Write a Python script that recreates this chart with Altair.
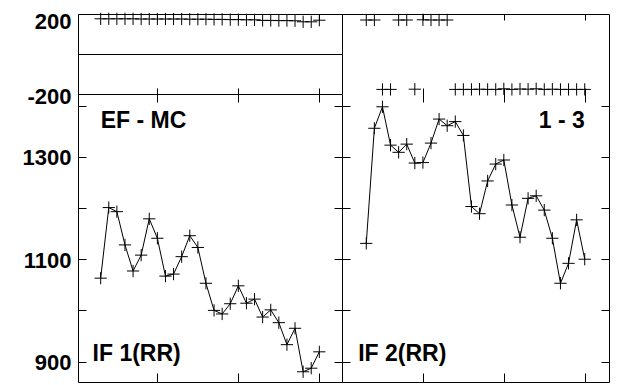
import altair as alt
import pandas as pd

# ---- data ----
x_vals = [0.3, 0.4, 0.5, 0.6, 0.7, 0.8, 0.9, 1.0, 1.1, 1.2, 1.3, 1.4, 1.5, 1.6,
          1.7, 1.8, 1.9, 2.0, 2.1, 2.2, 2.3, 2.4, 2.5, 2.6, 2.7, 2.8, 2.9, 3.0]

# IF 1(RR)  (EF - MC), lower-left panel
if1 = [1063, 1201, 1193, 1128, 1077, 1108, 1179, 1141, 1067, 1071,
       1105, 1146, 1123, 1053, 1000, 993, 1013, 1048, 1014, 1022,
       987, 1001, 976, 933, 965, 880, 887, 919]
# IF 2(RR)  (1 - 3), lower-right panel
if2 = [1131, 1356, 1398, 1323, 1309, 1325, 1288, 1289, 1327, 1374,
       1361, 1369, 1342, 1203, 1189, 1253, 1286, 1294, 1206, 1143,
       1219, 1224, 1196, 1141, 1053, 1092, 1177, 1100]
# phase panels (top)
ph1 = [176, 176, 176, 176, 176, 175, 175, 175, 175, 175, 175, 174, 174, 174,
       173, 173, 172, 172, 171, 171, 168, 168, 167, 167, 166, 161, 161, 169]
ph2 = [170, 170, -177, -177, 170, 170, -176, 171, 170, 170, 170,
       -177, -177, -177, -176, -177, -177, -174, -177, -175, -176, -174,
       -177, -176, -177, -177, -177, -177]

x_ticks = [1, 2, 3]
top_ticks = [-200, 0, 200]
bottom_label_ticks = [900, 1100, 1300]
bottom_ticks = [900, 1000, 1100, 1200, 1300, 1400]

left_labels = ["EF - MC", "IF 1(RR)"]
left_label_x = [0.30, 0.20]
left_label_y = [1357, 901]
right_label_a = ["1 - 3"]
right_label_a_x = [3.0]
right_label_a_y = [1357]
right_label_b = ["IF 2(RR)"]
right_label_b_x = [0.20]
right_label_b_y = [901]

# ---- tables ----
df_tl = pd.DataFrame({"x": x_vals, "v": ph1})
df_tr = pd.DataFrame({"x": x_vals, "v": ph2})
df_bl = pd.DataFrame({"x": x_vals, "v": if1})
df_br = pd.DataFrame({"x": x_vals, "v": if2})
df_lab_l = pd.DataFrame({"x": left_label_x, "v": left_label_y, "t": left_labels})
df_lab_ra = pd.DataFrame({"x": right_label_a_x, "v": right_label_a_y, "t": right_label_a})
df_lab_rb = pd.DataFrame({"x": right_label_b_x, "v": right_label_b_y, "t": right_label_b})

W, H = 531, 368
SPLIT_X = 264
SPLIT_Y = 80

def XL():
    return alt.Scale(domain=[0.02, 3.28], range=[0, SPLIT_X], nice=False, zero=False)

def XR():
    return alt.Scale(domain=[0.0, 3.3], range=[SPLIT_X, W], nice=False, zero=False)

def YT():
    return alt.Scale(domain=[-200, 200], range=[SPLIT_Y, 0], nice=False, zero=False)

def YB():
    return alt.Scale(domain=[860, 1423], range=[H, SPLIT_Y], nice=False, zero=False)

def tick_axis(orient, offset, size, values, domain=False):
    return alt.Axis(orient=orient, offset=offset, tickSize=size, values=values,
                    labels=False, domain=domain, grid=False, ticks=True)

CROSS = "M-1,0H1M0,-1V1"

def pts(df):
    return alt.Chart(df).mark_point(shape=CROSS, size=150, filled=False, color="black",
                                    strokeWidth=1, opacity=1)

def line(df):
    return alt.Chart(df).mark_line(color="black", strokeWidth=1)

def txt(df, align):
    return alt.Chart(df).mark_text(align=align, baseline="alphabetic", font="Liberation Sans",
                                   fontWeight="bold", fontSize=23, color="black")

# 1. top-left crosses: ticks on top edge, y labels + grid (zero line and divider)
l1 = pts(df_tl).encode(
    x=alt.X("x:Q", scale=XL(), title=None, axis=tick_axis("bottom", -H, 6, x_ticks)),
    y=alt.Y("v:Q", scale=YT(), title=None,
            axis=alt.Axis(orient="left", values=top_ticks, ticks=False, domain=False, grid=True,
                          labelPadding=7,
                          labelOffset={"condition": {"test": "datum.value > 100", "value": 7},
                                       "value": 2},
                          labelExpr="datum.value == 0 ? '' : '' + datum.value")),
)
# 2. top-right crosses: ticks on top edge, vertical divider (top part)
l2 = pts(df_tr).encode(
    x=alt.X("x:Q", scale=XR(), title=None, axis=tick_axis("bottom", -H, 6, x_ticks)),
    y=alt.Y("v:Q", scale=YT(), title=None,
            axis=alt.Axis(orient="left", offset=-SPLIT_X, ticks=False, labels=False,
                          domain=True, grid=False)),
)
# 3. bottom-left line: ticks across the horizontal divider, y labels
l3 = line(df_bl).encode(
    x=alt.X("x:Q", scale=XL(), title=None, axis=tick_axis("top", -(SPLIT_Y + 8), 14, x_ticks)),
    y=alt.Y("v:Q", scale=YB(), title=None,
            axis=alt.Axis(orient="left", values=bottom_label_ticks, ticks=False, domain=False,
                          grid=False, labelPadding=7, labelOffset=1,
                          labelExpr="'' + datum.value")),
)
# 4. bottom-left crosses: bottom edge ticks, left edge ticks
l4 = pts(df_bl).encode(
    x=alt.X("x:Q", scale=XL(), title=None, axis=tick_axis("top", -H, 9, x_ticks)),
    y=alt.Y("v:Q", scale=YB(), title=None, axis=tick_axis("right", -W, 8, bottom_ticks)),
)
# 5. bottom-left labels: divider (lower part) with its ticks
l5 = txt(df_lab_l, "left").encode(
    x=alt.X("x:Q", scale=XL(), axis=None),
    y=alt.Y("v:Q", scale=YB(), title=None,
            axis=tick_axis("left", -SPLIT_X, 8, bottom_ticks, domain=True)),
    text="t:N",
)
# 6. bottom-right line
l6 = line(df_br).encode(
    x=alt.X("x:Q", scale=XR(), title=None, axis=tick_axis("top", -(SPLIT_Y + 8), 14, x_ticks)),
    y=alt.Y("v:Q", scale=YB(), title=None, axis=tick_axis("right", -(W - SPLIT_X), 8, bottom_ticks)),
)
# 7. bottom-right crosses
l7 = pts(df_br).encode(
    x=alt.X("x:Q", scale=XR(), title=None, axis=tick_axis("top", -H, 9, x_ticks)),
    y=alt.Y("v:Q", scale=YB(), title=None, axis=tick_axis("left", -W, 8, bottom_ticks)),
)
l8 = txt(df_lab_ra, "right").encode(
    x=alt.X("x:Q", scale=XR(), axis=None),
    y=alt.Y("v:Q", scale=YB(), axis=None),
    text="t:N",
)
l9 = txt(df_lab_rb, "left").encode(
    x=alt.X("x:Q", scale=XR(), axis=None),
    y=alt.Y("v:Q", scale=YB(), axis=None),
    text="t:N",
)

chart = (
    alt.layer(l1, l2, l3, l4, l5, l6, l7, l8, l9)
    .resolve_scale(x="independent", y="independent")
    .resolve_axis(x="independent", y="independent")
    .properties(width=W, height=H, autosize=alt.AutoSizeParams(type="none"),
                padding={"left": 70, "top": 6, "right": 4, "bottom": 3},
                background="white")
    .configure_view(stroke="black", strokeWidth=1)
    .configure_axis(tickColor="black", domainColor="black", gridColor="black",
                    tickWidth=1, domainWidth=1, gridWidth=1, gridOpacity=1,
                    labelFont="Liberation Sans", labelFontWeight="bold",
                    labelFontSize=22, labelColor="black")
)

chart.save("out.html", embed_options={"renderer": "svg", "actions": False})
